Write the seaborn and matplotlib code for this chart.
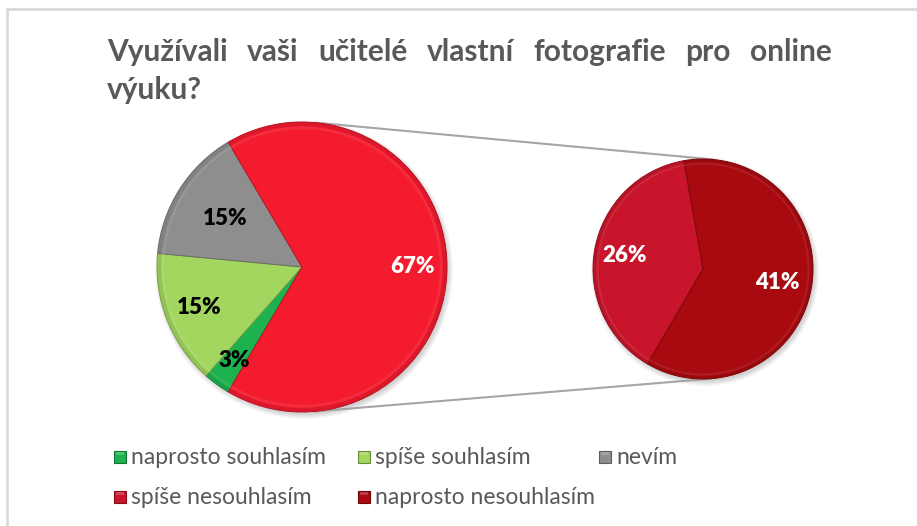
import numpy as np
import matplotlib
matplotlib.use("Agg")
import matplotlib.pyplot as plt
import seaborn as sns
from matplotlib.patches import Wedge, Circle, Rectangle
from matplotlib.colors import to_rgb

# --- data -------------------------------------------------------------
title = "Využívali vaši učitelé vlastní fotografie pro online výuku?"
main_labels = ["naprosto souhlasím", "spíše souhlasím", "nevím"]
main_values = [3, 15, 15]
other_labels = ["spíše nesouhlasím", "naprosto nesouhlasím"]
other_values = [26, 41]

palette = {
    "naprosto souhlasím": "#1DB24F",
    "spíše souhlasím": "#A2D65E",
    "nevím": "#8E8E8E",
    "spíše nesouhlasím": "#C8152B",
    "naprosto nesouhlasím": "#A80A0F",
}
other_color = "#F41B2E"

# --- style --------------------------------------------------------------
sns.set_theme(style="white")
plt.rcParams["font.family"] = ["Lato", "DejaVu Sans"]
text_grey = "#595959"

W, H = 917, 526
fig = plt.figure(figsize=(W / 100, H / 100), dpi=100)
ax = fig.add_axes([0, 0, 1, 1])


def shade(c, f):
    r, g, b = to_rgb(c)
    if f < 1:
        return (r * f, g * f, b * f)
    return (r + (1 - r) * (f - 1), g + (1 - g) * (f - 1), b + (1 - b) * (f - 1))


def soft_shadow(center, r):
    cx, cy = center
    for k in range(6):
        ax.add_patch(Circle((cx + 2, cy - 3), r + 4 - k, color="black",
                            alpha=0.03, lw=0, zorder=1))


def bevel(wedges, colors):
    for w, c in zip(wedges, colors):
        w.set_facecolor(c)
        w.set_edgecolor(shade(c, 0.75))
        w.set_linewidth(0.7)
        w.set_zorder(2)
        cx, cy = w.center
        r = w.r
        ax.add_patch(Wedge((cx, cy), r, w.theta1, w.theta2, width=r * 0.03,
                           facecolor=shade(c, 0.75), alpha=0.35, lw=0, zorder=3))
        ax.add_patch(Wedge((cx, cy), r * 0.97, w.theta1, w.theta2, width=r * 0.02,
                           facecolor=shade(c, 1.3), alpha=0.25, lw=0, zorder=3))


def place_labels(wedges, values, fracs, colors):
    for w, v, f, tc in zip(wedges, values, fracs, colors):
        mid = np.deg2rad((w.theta1 + w.theta2) / 2)
        cx, cy = w.center
        ax.text(cx + f * w.r * np.cos(mid), cy + f * w.r * np.sin(mid), f"{v}%",
                ha="center", va="center", fontsize=16, fontweight="heavy",
                color=tc, zorder=5)


# --- primary pie --------------------------------------------------------
c1, r1 = (302, 259), 145
c2, r2 = (703, 257), 110
other_total = sum(other_values)
total = sum(main_values) + other_total
start = 180 + 360 * sum(main_values) / total / 2

soft_shadow(c1, r1)
soft_shadow(c2, r2)

w1, _ = ax.pie(main_values + [other_total], center=c1, radius=r1,
               startangle=start, counterclock=False,
               colors=[palette[k] for k in main_labels] + [other_color])
bevel(w1, [palette[k] for k in main_labels] + [other_color])
place_labels(w1, main_values + [other_total], [0.80, 0.76, 0.63, 0.76],
             ["black", "black", "black", "white"])

# --- secondary pie ------------------------------------------------------
w2, _ = ax.pie(other_values, center=c2, radius=r2, startangle=100,
               counterclock=True, colors=[palette[k] for k in other_labels])
bevel(w2, [palette[k] for k in other_labels])
place_labels(w2, other_values, [0.72, 0.69], ["white", "white"])

# --- connector lines (outer tangents of the two pies) --------------------
d = np.hypot(c2[0] - c1[0], c2[1] - c1[1])
ux, uy = (c2[0] - c1[0]) / d, (c2[1] - c1[1]) / d
s = (r1 - r2) / d
cth = np.sqrt(1 - s * s)
for sign in (1, -1):
    nx = s * ux - sign * cth * uy
    ny = s * uy + sign * cth * ux
    ax.plot([c1[0] + r1 * nx, c2[0] + r2 * nx], [c1[1] + r1 * ny, c2[1] + r2 * ny],
            color="#A5A5A5", lw=1.5, zorder=1.5, solid_capstyle="butt")

ax.set_xlim(0, W)
ax.set_ylim(0, H)
ax.set_aspect("equal")
ax.axis("off")

# --- frame ---------------------------------------------------------------
ax.add_patch(Rectangle((7, -20), W + 20, H + 20 - 9, fill=False,
                       edgecolor="#D9D9D9", lw=2, zorder=0, clip_on=False))

# --- title (justified first line) ----------------------------------------
words = title.split()
line1, line2 = words[:-1], words[-1:]
fig.canvas.draw()
renderer = fig.canvas.get_renderer()
tkw = dict(fontsize=21.5, fontweight="bold", color=text_grey, va="baseline", ha="left")
x_left, x_right = 107, 832
texts = [ax.text(0, 465, w, **tkw) for w in line1]
widths = [t.get_window_extent(renderer).width for t in texts]
gap = (x_right - x_left - sum(widths)) / (len(texts) - 1)
x = x_left
for t, wd in zip(texts, widths):
    t.set_x(x)
    x += wd + gap
ax.text(x_left, 427, " ".join(line2), **tkw)

# --- legend ---------------------------------------------------------------
legend_order = [("naprosto souhlasím", 114, 69), ("spíše souhlasím", 358, 69),
                ("nevím", 599, 69), ("spíše nesouhlasím", 114, 29),
                ("naprosto nesouhlasím", 358, 29)]
for name, lx, ly in legend_order:
    col = palette[name]
    ax.add_patch(Rectangle((lx, ly - 6), 12, 12, facecolor=col,
                           edgecolor=shade(col, 0.65), lw=0.8, zorder=4))
    ax.add_patch(Rectangle((lx + 2, ly + 2), 8, 3, facecolor=shade(col, 1.3),
                           lw=0, alpha=0.7, zorder=4))
    ax.text(lx + 17, ly, name, fontsize=16.5, color=text_grey, va="center",
            ha="left", zorder=4)

fig.savefig("out.png", dpi=100)
